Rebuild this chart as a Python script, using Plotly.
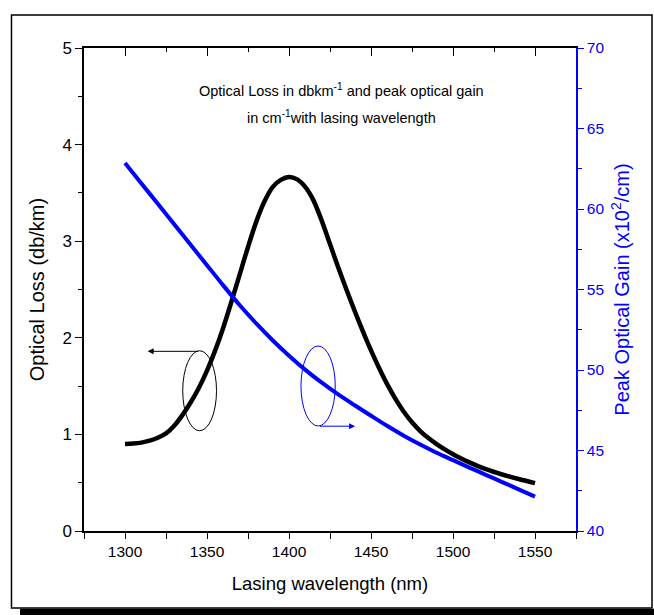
import plotly.graph_objects as go

# ---- data ----
loss_wavelength = [1300, 1305, 1310, 1315, 1320, 1325, 1330, 1335, 1340, 1345, 1350,
                   1355, 1360, 1365, 1370, 1375, 1380, 1385, 1390, 1395, 1400,
                   1405, 1410, 1415, 1420, 1425, 1430, 1435, 1440, 1445, 1450,
                   1455, 1460, 1465, 1470, 1475, 1480, 1485, 1490, 1495, 1500,
                   1505, 1510, 1520, 1530, 1540, 1550]
optical_loss = [0.90, 0.905, 0.915, 0.935, 0.965, 1.01, 1.09, 1.20, 1.33, 1.48, 1.66,
                1.87, 2.11, 2.38, 2.66, 2.94, 3.20, 3.41, 3.56, 3.635, 3.665,
                3.64, 3.56, 3.42, 3.21, 2.97, 2.73, 2.50, 2.28, 2.07, 1.87,
                1.685, 1.515, 1.365, 1.235, 1.125, 1.035, 0.962, 0.90, 0.845, 0.795,
                0.75, 0.71, 0.64, 0.585, 0.538, 0.495]
gain_wavelength = [1300, 1310, 1320, 1330, 1340, 1350, 1360, 1370, 1380, 1390, 1400,
                   1410, 1420, 1430, 1440, 1450, 1460, 1470, 1480, 1490, 1500,
                   1510, 1520, 1530, 1540, 1550]
peak_gain = [62.86, 61.59, 60.32, 59.05, 57.78, 56.51, 55.24, 54.02, 52.89, 51.85, 50.89,
             50.01, 49.21, 48.48, 47.81, 47.16, 46.52, 45.92, 45.37, 44.86, 44.40,
             43.94, 43.49, 43.04, 42.59, 42.14]
x_ticks = [1300, 1350, 1400, 1450, 1500, 1550]
y_ticks = [0, 1, 2, 3, 4, 5]
y2_ticks = [40, 45, 50, 55, 60, 65, 70]

REG = "Liberation Sans, Arial, sans-serif"
BLUE = "#0000ff"

fig = go.Figure()
fig.add_trace(go.Scatter(x=loss_wavelength, y=optical_loss, mode="lines",
                         line=dict(color="black", width=4.5, shape="spline", smoothing=0.8),
                         showlegend=False, xaxis="x", yaxis="y"))
fig.add_trace(go.Scatter(x=gain_wavelength, y=peak_gain, mode="lines",
                         line=dict(color=BLUE, width=4, shape="spline", smoothing=0.8),
                         showlegend=False, xaxis="x", yaxis="y2"))
# invisible trace so the top axis is drawn
fig.add_trace(go.Scatter(x=[loss_wavelength[0]], y=[optical_loss[0]], mode="markers",
                         marker=dict(opacity=0), showlegend=False, hoverinfo="skip",
                         xaxis="x2", yaxis="y"))

fig.update_layout(
    width=654, height=615,
    margin=dict(l=84, r=78, t=48, b=84),
    paper_bgcolor="white", plot_bgcolor="white",
    xaxis=dict(range=[1275, 1575], tickvals=x_ticks, ticks="outside", ticklen=6,
               tickwidth=1.2, tickcolor="black",
               minor=dict(ticks="outside", ticklen=6, dtick=25, tick0=1275, tickcolor="black", showgrid=False),
               showline=True, linecolor="black", linewidth=1.5, showgrid=False, zeroline=False,
               tickfont=dict(family=REG, size=15.5, color="black"),
               title=dict(text="Lasing wavelength (nm)", font=dict(family=REG, size=18.5, color="black"), standoff=18)),
    xaxis2=dict(range=[1275, 1575], overlaying="x", side="top", anchor="y",
                tickvals=x_ticks, ticks="inside", ticklen=8, tickcolor="black", tickwidth=1.2,
                minor=dict(ticks="inside", ticklen=4, dtick=25, tick0=1275, tickcolor="black", showgrid=False),
                showticklabels=False, showline=True, linecolor="black", linewidth=1.5,
                showgrid=False, zeroline=False),
    yaxis=dict(range=[0, 5], tickvals=y_ticks, ticks="outside", ticklen=7, tickwidth=1.2,
               tickcolor="black",
               minor=dict(ticks="outside", ticklen=4, dtick=0.5, tickcolor="black", showgrid=False),
               showline=True, linecolor="black", linewidth=1.5, showgrid=False, zeroline=False,
               tickfont=dict(family=REG, size=17, color="black"),
               title=dict(text="Optical Loss (db/km)", font=dict(family=REG, size=20, color="black"), standoff=12)),
    yaxis2=dict(range=[40, 70], tickvals=y2_ticks, overlaying="y", side="right", anchor="x",
                ticks="outside", ticklen=6, tickwidth=1.2, tickcolor=BLUE,
                minor=dict(ticks="outside", ticklen=4, dtick=2.5, tickcolor=BLUE, showgrid=False),
                showline=True, linecolor=BLUE, linewidth=1.5, showgrid=False, zeroline=False,
                tickfont=dict(family=REG, size=15.5, color=BLUE),
                title=dict(text="Peak Optical Gain (x10<sup>2</sup>/cm)",
                           font=dict(family=REG, size=20, color=BLUE), standoff=12)),
)

# frame with shadow (paper coordinates)
fig.add_shape(type="rect", xref="paper", yref="paper", x0=-0.13, x1=1.1585, y0=-0.174, y1=-0.161,
              fillcolor="black", line=dict(width=0), layer="below")
fig.add_shape(type="rect", xref="paper", yref="paper", x0=-0.1474, x1=1.1545, y0=-0.1594, y1=1.0683,
              fillcolor="rgba(0,0,0,0)", line=dict(color="black", width=1.5))

# ellipses
fig.add_shape(type="circle", xref="x", yref="y", x0=1335.2, x1=1355.8, y0=1.038, y1=1.866,
              line=dict(color="black", width=1))
fig.add_shape(type="circle", xref="x", yref="y", x0=1407.3, x1=1428.2, y0=1.087, y1=1.915,
              line=dict(color=BLUE, width=1))

# arrows
fig.add_annotation(x=1313.8, y=1.86, ax=1345.5, ay=1.86, xref="x", yref="y", axref="x", ayref="y",
                   text="", showarrow=True, arrowhead=2, arrowsize=1.2, arrowwidth=1, arrowcolor="black")
fig.add_annotation(x=1440.3, y=1.085, ax=1418, ay=1.085, xref="x", yref="y", axref="x", ayref="y",
                   text="", showarrow=True, arrowhead=2, arrowsize=1.2, arrowwidth=1, arrowcolor=BLUE)

# title text (two lines)
fig.add_annotation(x=0.524, y=0.913, xref="paper", yref="paper", showarrow=False, yanchor="middle",
                   text="Optical Loss in dbkm<sup>-1</sup> and peak optical gain",
                   font=dict(family=REG, size=14.5, color="black"))
fig.add_annotation(x=0.524, y=0.857, xref="paper", yref="paper", showarrow=False, yanchor="middle",
                   text="in cm<sup>-1</sup>with lasing wavelength",
                   font=dict(family=REG, size=14.5, color="black"))

fig.write_html("out.html", config={"displayModeBar": False},
               post_script="document.body.style.margin='0';")
